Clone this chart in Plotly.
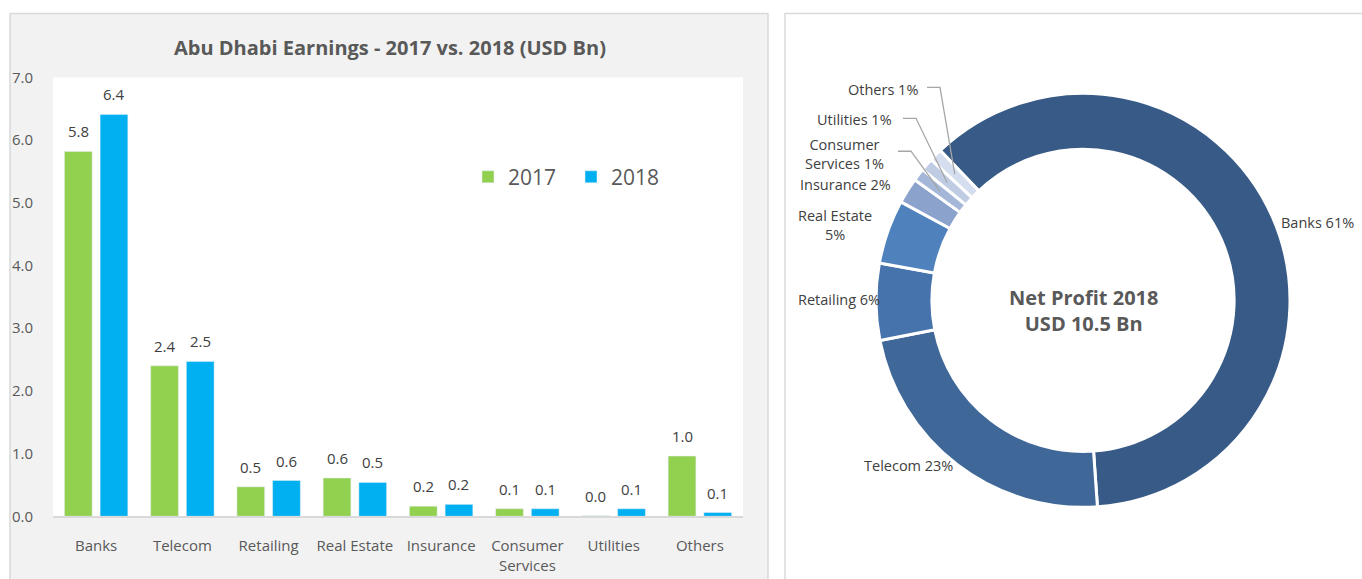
import math
import plotly.graph_objects as go

W, H = 1362, 579

# ---- data ----
categories = ["Banks", "Telecom", "Retailing", "Real Estate", "Insurance",
              "Consumer<br>Services", "Utilities", "Others"]
earnings_2017 = [5.82, 2.40, 0.47, 0.61, 0.16, 0.12, 0.01, 0.96]
earnings_2018 = [6.41, 2.47, 0.57, 0.54, 0.19, 0.12, 0.12, 0.06]
y_ticks = [0, 1, 2, 3, 4, 5, 6, 7]

share_labels = ["Banks", "Telecom", "Retailing", "Real Estate", "Insurance",
                "Consumer Services", "Utilities", "Others"]
share_2018 = [61, 23, 6, 5, 2, 1, 1, 1]

GREEN = "#92d050"
BLUE = "#00b0f0"
SHARE_COLORS = ["#375a86", "#3f6899", "#4673ab", "#4f81bd",
                "#8aa2cc", "#a5b7d9", "#bfcce4", "#d5deee"]
FONT = "'Open Sans', sans-serif"
TXT = "#404040"
GREY_TXT = "#595959"

# the photographed page comes out squeezed vertically: photo_y = Y0 + YS * layout_y
Y0, YS = 9.4, 0.968


def px(x):
    return x / W


def py(y):
    return 1 - (y - Y0) / YS / H


fig = go.Figure()

# ---- left: grouped bars ----
fig.add_trace(go.Bar(x=categories, y=earnings_2017, name="2017",
                     marker=dict(color=GREEN), xaxis="x", yaxis="y"))
fig.add_trace(go.Bar(x=categories, y=earnings_2018, name="2018",
                     marker=dict(color=BLUE), xaxis="x", yaxis="y"))

annotations = []
for series, shift in ((earnings_2017, -17.8), (earnings_2018, 17.8)):
    for cat, v in zip(categories, series):
        annotations.append(dict(
            x=cat, y=v, xref="x", yref="y", text=f"{v:.1f}", showarrow=False,
            xshift=shift, yshift=8, xanchor="center", yanchor="bottom",
            font=dict(family=FONT, size=15, color=TXT)))

# ---- right: donut ----
ROT = -43.6
cx, cy, R = 1083, 299.5, 207
fig.add_trace(go.Pie(
    labels=share_labels, values=share_2018, hole=0.73, sort=False,
    direction="clockwise", rotation=ROT, textinfo="none", hoverinfo="label+percent",
    marker=dict(colors=SHARE_COLORS, line=dict(color="white", width=3)),
    domain=dict(x=[px(cx - R), px(cx + R)], y=[py(cy + 230), py(cy - 230)]),
    showlegend=False))

# label placement (pixels): x, y, xanchor, leader-line start or None
label_layout = {
    "Banks": (1279, 221, "left", None),
    "Telecom": (955, 465, "right", None),
    "Retailing": (882, 299, "right", None),
    "Real Estate": (835, 224, "center", None),
    "Insurance": (893, 183, "right", None),
    "Consumer Services": (844, 153, "center", (898, 150)),
    "Utilities": (894, 118, "right", (903, 117)),
    "Others": (920, 88, "right", (927, 86)),
}
display_names = {"Real Estate": "Real Estate<br>", "Consumer Services": "Consumer<br>Services "}

shapes = [
    # left panel background
    dict(type="rect", xref="paper", yref="paper", x0=px(10), x1=px(768), y0=py(600), y1=py(12),
         fillcolor="#f2f2f2", line=dict(color="#d9d9d9", width=1.5), layer="below"),
    dict(type="rect", xref="paper", yref="paper", x0=px(53), x1=px(743), y0=py(516), y1=py(76),
         fillcolor="white", line=dict(width=0), layer="below"),
    # right panel frame
    dict(type="rect", xref="paper", yref="paper", x0=px(785), x1=px(1375), y0=py(600), y1=py(12),
         fillcolor="white", line=dict(color="#d9d9d9", width=1.5), layer="below"),
]

total = sum(share_2018)
start = ROT
for name, val in zip(share_labels, share_2018):
    span = 360 * val / total
    mid = math.radians(start + span / 2)
    start += span
    lx, ly, anchor, lead = label_layout[name]
    text = f"{display_names.get(name, name + ' ')}{val}%"
    annotations.append(dict(x=px(lx), y=py(ly), xref="paper", yref="paper", text=text,
                            showarrow=False, xanchor=anchor, yanchor="middle",
                            font=dict(family=FONT, size=14.5, color=TXT)))
    if lead:
        ex = cx + 0.87 * R * math.sin(mid)
        ey = cy - 0.87 * R * math.cos(mid)
        x0, y0 = lead
        path = (f"M {px(x0)} {py(y0)} L {px(x0 + 13)} {py(y0)} "
                f"L {px(ex)} {py(ey)}")
        shapes.append(dict(type="path", xref="paper", yref="paper", path=path,
                           line=dict(color="#a6a6a6", width=1.3), layer="above"))

annotations.append(dict(x=px(1083), y=py(310), xref="paper", yref="paper",
                        xanchor="center", yanchor="middle",
                        text="<b>Net Profit 2018</b><br><b>USD 10.5 Bn</b>", showarrow=False,
                        font=dict(family=FONT, size=20, color=GREY_TXT)))
annotations.append(dict(x=px(390), y=py(46), xref="paper", yref="paper",
                        xanchor="center", yanchor="middle",
                        text="<b>Abu Dhabi Earnings - 2017 vs. 2018 (USD Bn)</b>", showarrow=False,
                        font=dict(family=FONT, size=20, color=GREY_TXT)))

fig.update_layout(
    width=W, height=H,
    margin=dict(l=0, r=0, t=0, b=0),
    paper_bgcolor="white", plot_bgcolor="white",
    font=dict(family=FONT, size=15, color=GREY_TXT),
    barmode="group", bargap=0.172, bargroupgap=0.224,
    xaxis=dict(domain=[px(53), px(743)], showline=True, linecolor="#d9d9d9", linewidth=2,
               ticks="outside", ticklen=15, tickcolor="rgba(0,0,0,0)", showgrid=False,
               tickfont=dict(family=FONT, size=15, color=GREY_TXT), fixedrange=True),
    yaxis=dict(domain=[py(516), py(76)], range=[0, 7], tickvals=y_ticks, tickformat=".1f",
               showgrid=False, zeroline=False, showline=False,
               ticks="outside", ticklen=16, tickcolor="rgba(0,0,0,0)",
               tickfont=dict(family=FONT, size=15, color=GREY_TXT), fixedrange=True),
    legend=dict(orientation="h", x=px(468), y=py(176), xanchor="left", yanchor="middle",
                bgcolor="rgba(0,0,0,0)", font=dict(family=FONT, size=21, color=GREY_TXT),
                itemwidth=30, entrywidth=58),
    shapes=shapes,
    annotations=annotations,
)

fig.write_html("out.html", config={"displayModeBar": False},
               post_script="document.body.style.margin='0px';")
